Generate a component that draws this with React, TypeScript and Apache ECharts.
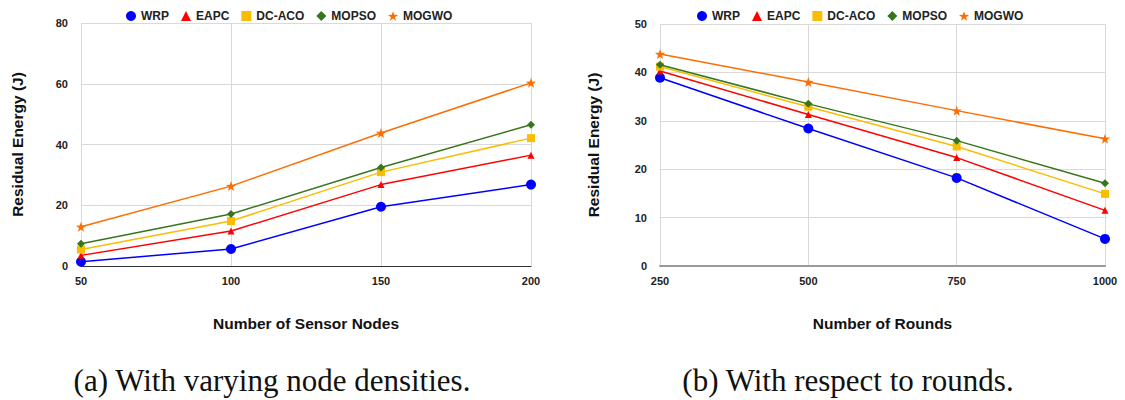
import React, { useEffect, useRef } from "react";
import * as echarts from "echarts";

const seriesNames = ["WRP", "EAPC", "DC-ACO", "MOPSO", "MOGWO"];
const seriesColors = ["#0000ff", "#ff0000", "#fbbc04", "#38761d", "#ff6d01"];

const nodeCategories = ["50", "100", "150", "200"];
const nodeWRP = [1.4, 5.6, 19.5, 26.8];
const nodeEAPC = [3.5, 11.5, 26.8, 36.5];
const nodeDCACO = [5.4, 14.8, 30.9, 42.1];
const nodeMOPSO = [7.3, 17.1, 32.4, 46.5];
const nodeMOGWO = [12.9, 26.3, 43.8, 60.3];

const roundCategories = ["250", "500", "750", "1000"];
const roundWRP = [38.9, 28.4, 18.2, 5.6];
const roundEAPC = [40.3, 31.3, 22.4, 11.5];
const roundDCACO = [41.2, 32.9, 24.7, 14.9];
const roundMOPSO = [41.6, 33.5, 25.9, 17.1];
const roundMOGWO = [43.8, 38.0, 32.1, 26.3];

const leftYTicks = { min: 0, max: 80, interval: 20 };
const rightYTicks = { min: 0, max: 50, interval: 10 };

const captionA = "(a) With varying node densities.";
const captionB = "(b) With respect to rounds.";
const yTitle = "Residual Energy (J)";
const xTitleA = "Number of Sensor Nodes";
const xTitleB = "Number of Rounds";

function starPath(): string {
  const pts: string[] = [];
  for (let i = 0; i < 10; i++) {
    const r = i % 2 === 0 ? 50 : 20;
    const a = -Math.PI / 2 + (i * Math.PI) / 5;
    pts.push(`${(50 + r * Math.cos(a)).toFixed(2)} ${(50 + r * Math.sin(a)).toFixed(2)}`);
  }
  return "path://M" + pts.join(" L") + " Z";
}

const STAR = starPath();
const symbols = ["circle", "triangle", "rect", "diamond", STAR];
const symbolSizes = [10, 7, 8, 8, 10];

const FONT = "Liberation Sans, Arial, sans-serif";

export default function App() {
  const ref = useRef<HTMLDivElement>(null);
  useEffect(() => {
    if (!ref.current) return;
    const chart = echarts.init(ref.current, undefined, { renderer: "svg" });

    const leftData = [nodeWRP, nodeEAPC, nodeDCACO, nodeMOPSO, nodeMOGWO];
    const rightData = [roundWRP, roundEAPC, roundDCACO, roundMOPSO, roundMOGWO];

    const mkSeries = (data: number[][], idx: number) =>
      seriesNames.map((name, i) => ({
        name,
        type: "line",
        xAxisIndex: idx,
        yAxisIndex: idx,
        data: data[i],
        symbol: symbols[i],
        symbolSize: symbolSizes[i],
        showAllSymbol: true,
        lineStyle: { color: seriesColors[i], width: 1.5 },
        itemStyle: { color: seriesColors[i] },
        z: 10 + i,
      }));

    const legendData = seriesNames.map((name, i) => ({ name, icon: symbols[i] }));

    const mkLegend = (left: number) => ({
      left,
      top: 5,
      itemWidth: 10,
      itemHeight: 10,
      itemGap: 12,
      data: legendData,
      textStyle: { fontFamily: FONT, fontWeight: "bold", fontSize: 12, color: "#222" },
    });

    const xAxisCommon = {
      type: "category",
      boundaryGap: false,
      axisTick: { show: false },
      axisLabel: { fontFamily: FONT, fontWeight: "bold", fontSize: 11, color: "#222", margin: 9 },
      splitLine: { show: true, lineStyle: { color: "#d9d9d9", width: 1 } },
      nameLocation: "middle",
      nameGap: 49,
      nameTextStyle: { fontFamily: FONT, fontWeight: "bold", fontSize: 15.5, color: "#111" },
    };

    const yAxisCommon = {
      type: "value",
      axisLine: { show: false },
      axisTick: { show: false },
      axisLabel: { fontFamily: FONT, fontWeight: "bold", fontSize: 11, color: "#222", margin: 13 },
      splitLine: { show: true, lineStyle: { color: "#d9d9d9", width: 1 } },
      nameLocation: "middle",
      nameTextStyle: { fontFamily: FONT, fontWeight: "bold", fontSize: 15.5, color: "#111" },
    };

    chart.setOption({
      animation: false,
      backgroundColor: "#ffffff",
      grid: [
        { left: 81, top: 23, width: 450, height: 243 },
        { left: 660, top: 24, width: 445, height: 242 },
      ],
      legend: [mkLegend(121), mkLegend(692)],
      xAxis: [
        {
          ...xAxisCommon,
          gridIndex: 0,
          data: nodeCategories,
          name: xTitleA,
          axisLine: { show: true, lineStyle: { color: "#333", width: 1 } },
        },
        {
          ...xAxisCommon,
          gridIndex: 1,
          data: roundCategories,
          name: xTitleB,
          axisLine: { show: true, lineStyle: { color: "#999", width: 2 } },
        },
      ],
      yAxis: [
        { ...yAxisCommon, gridIndex: 0, ...leftYTicks, name: yTitle, nameGap: 56 },
        { ...yAxisCommon, gridIndex: 1, ...rightYTicks, name: yTitle, nameGap: 59 },
      ],
      series: [...mkSeries(leftData, 0), ...mkSeries(rightData, 1)],
      graphic: [
        {
          type: "text",
          x: 272,
          y: 380,
          style: {
            text: captionA,
            font: "31px 'Liberation Serif', 'DejaVu Serif', serif",
            fill: "#111",
            textAlign: "center",
            textVerticalAlign: "middle",
          },
        },
        {
          type: "text",
          x: 848,
          y: 380,
          style: {
            text: captionB,
            font: "31px 'Liberation Serif', 'DejaVu Serif', serif",
            fill: "#111",
            textAlign: "center",
            textVerticalAlign: "middle",
          },
        },
      ],
    });
    return () => chart.dispose();
  }, []);

  return (
    <div
      ref={ref}
      style={{ position: "fixed", left: 0, top: 0, width: 1125, height: 400, background: "#fff" }}
    />
  );
}
